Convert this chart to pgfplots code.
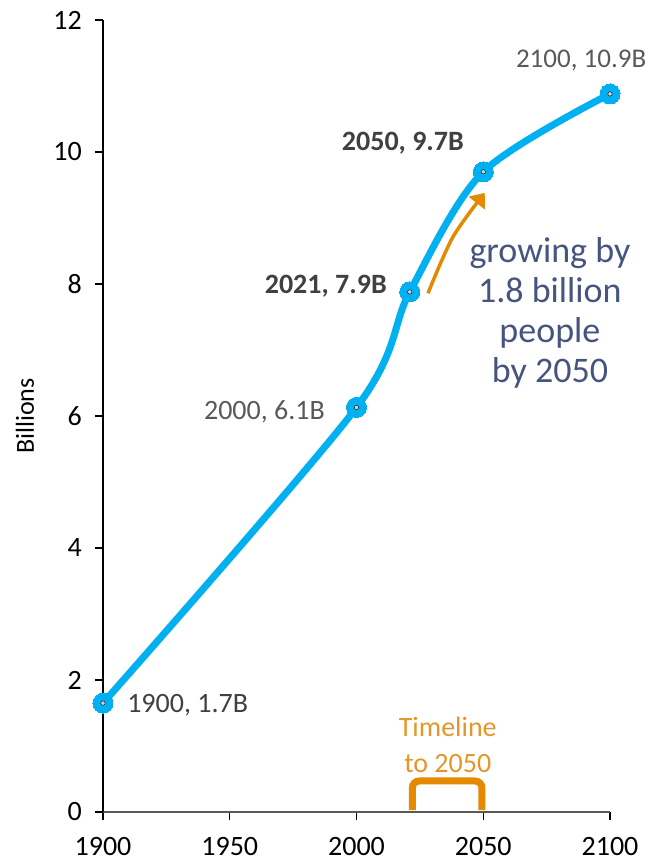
\documentclass[border=0pt]{standalone}
\usepackage{pgfplots}
\pgfplotsset{compat=1.18}
\usepackage{fontspec}
\setmainfont{Carlito}
\usetikzlibrary{arrows.meta}
\definecolor{lineblue}{RGB}{0,176,240}
\definecolor{orng}{RGB}{228,138,0}
\definecolor{orngtxt}{RGB}{230,150,40}
\definecolor{slate}{RGB}{70,84,128}
\definecolor{dk}{RGB}{64,64,64}
\definecolor{gr}{RGB}{89,89,89}
\definecolor{axgray}{RGB}{89,89,89}
\definecolor{dotgray}{RGB}{210,210,210}
\begin{document}
\begin{tikzpicture}
\begin{axis}[
  scale only axis,
  width=507pt, height=792pt,
  xmin=1900, xmax=2100, ymin=0, ymax=12,
  xtick={1900,1950,2000,2050,2100},
  xticklabels={1900,1950,2000,2050,2100},
  ytick={0,2,4,6,8,10,12},
  yticklabels={0,2,4,6,8,10,12},
  axis x line=bottom, axis y line=left,
  x axis line style={draw=axgray, line width=2pt, -},
  y axis line style={draw=black, line width=1.2pt, -},
  tick align=outside,
  major tick length=8pt,
  xtick style={draw=black, line width=1.2pt},
  ytick style={draw=black, line width=1.2pt},
  minor tick num=0,
  xticklabel style={font=\fontsize{28}{34}\selectfont, text=black, inner sep=0pt, yshift=-17pt},
  yticklabel style={font=\fontsize{28}{34}\selectfont, text=black, inner sep=0pt, xshift=-13pt},
  ylabel={Billions},
  ylabel style={at={(axis description cs:0,0.5)}, anchor=center, rotate=0, yshift=78pt, font=\fontsize{26}{30}\selectfont},
  clip=false,
]
% Timeline bracket
\addplot[draw=orng, line width=7pt, rounded corners=7pt] coordinates {(2022,0.03) (2022,0.47) (2049.5,0.47) (2049.5,0.03)};
% Growth arrow
\addplot[draw=orng, line width=3.5pt, smooth, -{Triangle[length=13pt,width=20pt]}] coordinates {(2028.2,7.86) (2038,8.71) (2050.6,9.38)};
% Population curve
\addplot[draw=lineblue, line width=7pt, smooth, mark=*, mark size=10pt, mark options={fill=lineblue, draw=lineblue, line width=0pt}] coordinates {
(1900,1.65) (2000,6.13) (2021,7.88) (2050,9.70) (2100,10.88)};
\addplot[only marks, mark=*, mark size=2.2pt, mark options={fill=dotgray, draw=none}] coordinates {
(1900,1.65) (2000,6.13) (2021,7.88) (2050,9.70) (2100,10.88)};
% labels
\node[text=gr, font=\fontsize{27}{32}\selectfont] at (axis cs:2088.6,11.39) {2100, 10.9B};
\node[text=dk, font=\bfseries\fontsize{28}{34}\selectfont] at (axis cs:2018.3,10.14) {2050, 9.7B};
\node[text=dk, font=\bfseries\fontsize{28}{34}\selectfont, anchor=east, inner sep=0pt] at (axis cs:2012,7.97) {2021, 7.9B};
\node[text=gr, font=\fontsize{28}{34}\selectfont, anchor=east, inner sep=0pt] at (axis cs:1987.6,6.06) {2000, 6.1B};
\node[text=dk, font=\fontsize{28}{34}\selectfont, anchor=west, inner sep=0pt] at (axis cs:1909.5,1.62) {1900, 1.7B};
\node[text=slate, font=\fontsize{36}{40}\selectfont, align=center] at (axis cs:2076.3,7.56) {growing by\\1.8 billion\\people\\by 2050};
\node[text=orngtxt, font=\fontsize{28}{36}\selectfont, align=center] at (axis cs:2036,1.02) {Timeline\\to 2050};
\end{axis}
\path ([xshift=-103pt,yshift=-51pt]current axis.south west) rectangle ([xshift=42pt,yshift=20pt]current axis.north east);
\end{tikzpicture}
\end{document}
